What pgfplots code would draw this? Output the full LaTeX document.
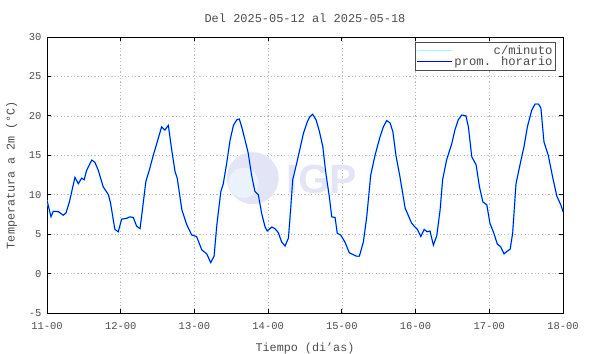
\documentclass[border=0pt]{standalone}
\usepackage{pgfplots}
\pgfplotsset{compat=1.18}
\usepackage{fontspec}
\setmainfont{Liberation Mono}
\newfontfamily\logofont{Liberation Sans}
\definecolor{cmin}{RGB}{70,250,250}
\definecolor{cleg}{RGB}{160,250,250}
\definecolor{logoc}{RGB}{228,228,247}
\definecolor{logol}{RGB}{236,242,252}
\pgfplotstableread{
h T
0 9.3
1.3 7.2
2.05 7.9
3.7 7.85
5.3 7.4
6.2 7.7
7.3 9.1
9.1 12.2
10.2 11.4
11.3 12.1
12.1 11.9
12.9 13.1
14.6 14.4
15.6 14.1
16.7 13.1
18.3 11.0
20.0 10.0
20.7 8.9
22.1 5.6
23.2 5.3
24.3 6.9
25.9 7.0
27.0 7.2
28.1 7.1
29.2 6.0
30.3 5.7
32.2 11.7
33.3 13.1
34.6 15.0
35.9 16.7
37.3 18.6
38.4 18.2
39.5 18.8
40.6 15.7
41.7 12.9
42.4 12.1
43.9 8.1
45.5 6.2
47.1 4.9
48.7 4.7
50.4 3.0
52.0 2.5
53.3 1.4
54.4 2.2
55.3 6.2
56.6 10.4
57.4 11.4
58.5 14.0
59.6 16.9
60.7 18.8
61.8 19.5
62.6 19.6
63.4 18.6
64.5 16.9
65.5 15.3
66.6 12.5
67.7 10.4
68.8 10.0
69.9 7.6
71.0 5.9
71.7 5.4
73.2 5.9
74.2 5.7
75.3 5.2
76.4 4.0
77.5 3.5
78.6 4.5
79.3 8.0
80.0 11.9
81.3 14.0
82.4 15.9
83.5 17.8
84.8 19.3
85.6 19.9
86.5 20.2
87.6 19.5
88.7 18.0
89.8 16.1
90.8 12.7
91.9 9.8
92.7 7.2
93.8 7.1
94.5 5.1
95.6 4.9
97.0 4.0
98.4 2.65
99.7 2.4
100.8 2.2
101.7 2.2
103.0 4.0
104.1 7.2
105.4 12.5
106.8 15.0
108.4 17.3
109.5 18.6
110.6 19.4
111.7 19.1
112.6 18.0
113.6 15.0
114.9 12.3
116.6 8.3
117.6 7.4
118.7 6.4
119.8 5.9
120.6 5.6
121.7 4.7
122.8 5.6
123.8 5.3
124.7 5.4
125.8 3.6
126.9 4.8
128.0 8.1
128.8 11.9
130.1 14.4
131.8 16.5
132.8 18.2
133.9 19.5
135.0 20.1
136.4 20.0
137.2 18.6
138.3 14.8
139.7 13.8
140.8 11.0
141.9 9.1
143.2 8.7
144.2 6.4
145.5 5.1
146.6 3.75
147.7 3.4
148.8 2.5
149.7 2.8
150.8 3.1
151.6 5.1
152.7 11.4
154.0 13.8
155.3 16.1
156.4 18.6
157.8 20.7
158.9 21.5
160.0 21.5
160.8 21.0
161.8 16.7
163.2 15.0
164.7 12.1
166.0 9.8
167.3 8.7
168 7.85
}\hourly
\begin{document}
\begin{tikzpicture}
\useasboundingbox (-47bp,-41bp) rectangle (543bp,313bp);
\begin{axis}[
  scale only axis, width=516bp, height=276bp,
  xmin=0, xmax=168, ymin=-5, ymax=30,
  xtick={0,24,...,168},
  xticklabels={11-00,12-00,13-00,14-00,15-00,16-00,17-00,18-00},
  ytick={-5,0,...,30},
  /pgf/number format/assume math mode=true,
  ticklabel style={font=\fontsize{10.5}{12}\selectfont, text=black!70},
  xticklabel style={yshift=-6bp},
  yticklabel style={xshift=-2bp},
  grid=major,
  major grid style={dash pattern=on 1.2pt off 2.2pt, gray!55, line width=0.5pt},
  major tick length=4bp,
  tick style={black, line width=0.8pt},
  axis line style={black, line width=1pt},
  title={Del 2025-05-12 al 2025-05-18},
  title style={font=\fontsize{12}{14}\selectfont, text=black!70, yshift=5bp},
  xlabel={Tiempo (di'as)},
  ylabel={Temperatura a 2m (°C)},
  label style={font=\fontsize{11.8}{14}\selectfont, text=black!70},
  xlabel style={yshift=-7bp},
  ylabel style={yshift=5bp},
  legend style={at={(0.986,0.982)}, anchor=north east, draw=black!70, line width=0.6pt,
    font=\fontsize{12.3}{13}\selectfont, inner sep=1pt, row sep=-3pt, cells={anchor=east}},
  legend cell align=right,
  clip=true,
]
\node[circle, fill=logoc, minimum size=52bp, inner sep=0pt] at (axis cs:67,12.1) {};
\node[circle, fill=logol, minimum size=30bp, inner sep=0pt] at (axis cs:64,11.5) {};
\node[font=\logofont\bfseries\fontsize{41}{41}\selectfont, text=logoc, anchor=base west, inner sep=0pt] at (axis cs:78,10.2) {IGP};
\addplot[color=cmin, line width=1.5pt, forget plot] table[x=h,y=T] {\hourly};
\addplot[color=blue, line width=0.9pt, forget plot] table[x=h,y=T] {\hourly};
\addlegendimage{legend image code/.code={\draw[draw=cleg, line width=0.8pt] (0bp,0bp) -- (35bp,0bp);}}
\addlegendentry{\textcolor{black!70}{c/minuto}}
\addlegendimage{legend image code/.code={\draw[draw=blue, line width=1.2pt] (0bp,0bp) -- (35bp,0bp);}}
\addlegendentry{\textcolor{black!70}{prom. horario}}
\end{axis}
\end{tikzpicture}
\end{document}
